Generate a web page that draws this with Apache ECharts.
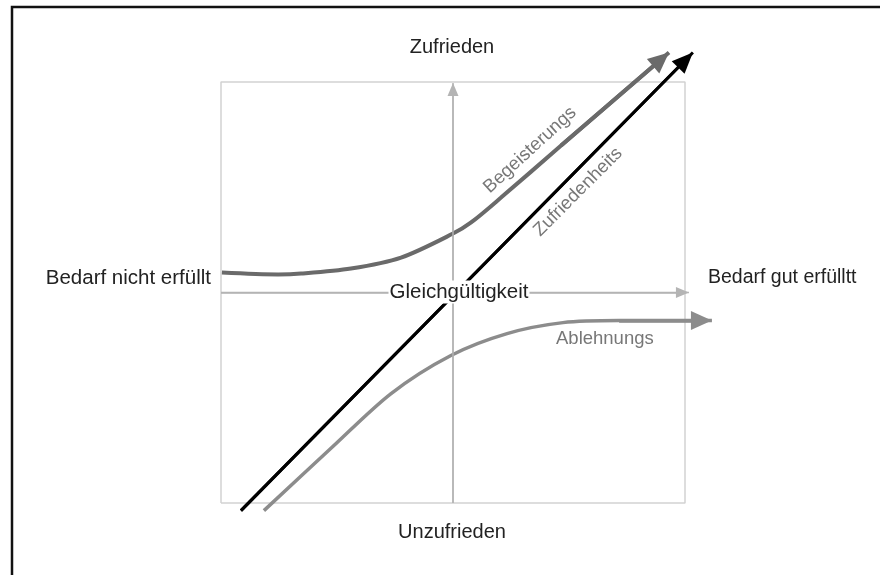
<!DOCTYPE html>
<html>
<head>
<meta charset="utf-8">
<script src="https://cdn.jsdelivr.net/npm/echarts@6/dist/echarts.min.js"></script>
<style>
  html, body { margin: 0; padding: 0; background: #fff; }
  #main { width: 880px; height: 575px; }
</style>
</head>
<body>
<div id="main"></div>
<script>
// Kano-Modell: Kasten von -1 bis 1, Kurven als Stützpunkte [x, y]
const kasten = [[-1, -1], [1, -1], [1, 1], [-1, 1], [-1, -1]];
const achseX = [[-1, 0], [1.017, 0]];
const achseY = [[0, -1], [0, 0.995]];
const zufriedenheit = [[-0.914, -1.036], [1.034, 1.14]];
const begeisterung = [
  [-0.996, 0.095], [-0.754, 0.086], [-0.655, 0.09], [-0.44, 0.114],
  [-0.224, 0.166], [0, 0.28], [0.078, 0.333], [0.207, 0.451],
  [0.466, 0.698], [0.931, 1.14]
];
const ablehnung = [
  [-0.815, -1.036], [-0.526, -0.74], [-0.267, -0.48], [-0.009, -0.299],
  [0.233, -0.195], [0.474, -0.143], [0.716, -0.133], [1.116, -0.133]
];

const FONT = '"Liberation Sans", Arial, sans-serif';
const GRID_W = 580, GRID_H = 526.25, SPAN = 2.5;
const PX_X = GRID_W / SPAN, PX_Y = GRID_H / SPAN; // Pixel je Einheit

// Pfeilspitze auf dem letzten Segment; Dreieck wird um halbe Höhe zurückgesetzt,
// damit seine Spitze genau auf dem Endpunkt liegt
function pfeil(punkte, farbe, breite, groesse) {
  const a = punkte[punkte.length - 2];
  const b = punkte[punkte.length - 1];
  const dx = (b[0] - a[0]) * PX_X, dy = (b[1] - a[1]) * PX_Y;
  const len = Math.sqrt(dx * dx + dy * dy);
  const h = groesse[1] / 2;
  const c = [b[0] - (dx / len) * h / PX_X, b[1] - (dy / len) * h / PX_Y];
  return {
    silent: true,
    symbol: ["none", "triangle"],
    symbolSize: groesse,
    label: { show: false },
    lineStyle: { color: farbe, width: breite, type: "solid" },
    emphasis: { disabled: true },
    data: [[{ coord: a }, { coord: c }]]
  };
}

function kurve(name, punkte, farbe, breite, groesse, smooth) {
  const s = {
    name: name,
    type: "line",
    data: punkte,
    smooth: smooth,
    showSymbol: false,
    clip: false,
    silent: true,
    lineStyle: { color: farbe, width: breite }
  };
  if (groesse) s.markLine = pfeil(punkte, farbe, breite, groesse);
  return s;
}

const chart = echarts.init(document.getElementById("main"));
chart.setOption({
  animation: false,
  grid: { left: 163, top: 29.4, width: GRID_W, height: GRID_H },
  xAxis: { type: "value", min: -1.25, max: 1.25, show: false },
  yAxis: { type: "value", min: -1.25, max: 1.25, show: false },
  series: [
    kurve("kasten", kasten, "#d2d2d2", 1.5, null, false),
    kurve("achseX", achseX, "#b4b4b4", 1.5, [11, 13], false),
    kurve("achseY", achseY, "#b4b4b4", 1.5, [11, 13], false),
    kurve("Ablehnungs", ablehnung, "#8c8c8c", 3.5, [19, 21], 0.3),
    kurve("Begeisterungs", begeisterung, "#6a6a6a", 4, [19, 21], 0.3),
    kurve("Zufriedenheits", zufriedenheit, "#000", 3, [18, 21], false)
  ],
  graphic: [
    {
      type: "rect",
      shape: { x: 12, y: 7, width: 900, height: 600 },
      style: { fill: null, stroke: "#111", lineWidth: 2.5 },
      silent: true
    },
    { type: "text", x: 452, y: 47, style: { text: "Zufrieden", font: "20px " + FONT, fill: "#222", align: "center", verticalAlign: "middle" } },
    { type: "text", x: 452, y: 532, style: { text: "Unzufrieden", font: "20px " + FONT, fill: "#222", align: "center", verticalAlign: "middle" } },
    { type: "text", x: 211, y: 278, style: { text: "Bedarf nicht erfüllt", font: "20.5px " + FONT, fill: "#222", align: "right", verticalAlign: "middle" } },
    { type: "text", x: 708, y: 278, style: { text: "Bedarf gut erfülltt", font: "19.5px " + FONT, fill: "#222", align: "left", verticalAlign: "middle" } },
    {
      type: "text", x: 459, y: 292, z: 100,
      style: { text: "Gleichgültigkeit", font: "20.5px " + FONT, fill: "#222", align: "center", verticalAlign: "middle", backgroundColor: "#fff", padding: [1, 1] }
    },
    { type: "text", x: 556, y: 339, style: { text: "Ablehnungs", font: "18.5px " + FONT, fill: "#777", align: "left", verticalAlign: "middle" } },
    { type: "text", x: 530, y: 150, rotation: 0.74, style: { text: "Begeisterungs", font: "18.5px " + FONT, fill: "#777", align: "center", verticalAlign: "middle" } },
    { type: "text", x: 578, y: 192, rotation: Math.PI / 4, style: { text: "Zufriedenheits", font: "18.5px " + FONT, fill: "#777", align: "center", verticalAlign: "middle" } }
  ]
});
</script>
</body>
</html>
